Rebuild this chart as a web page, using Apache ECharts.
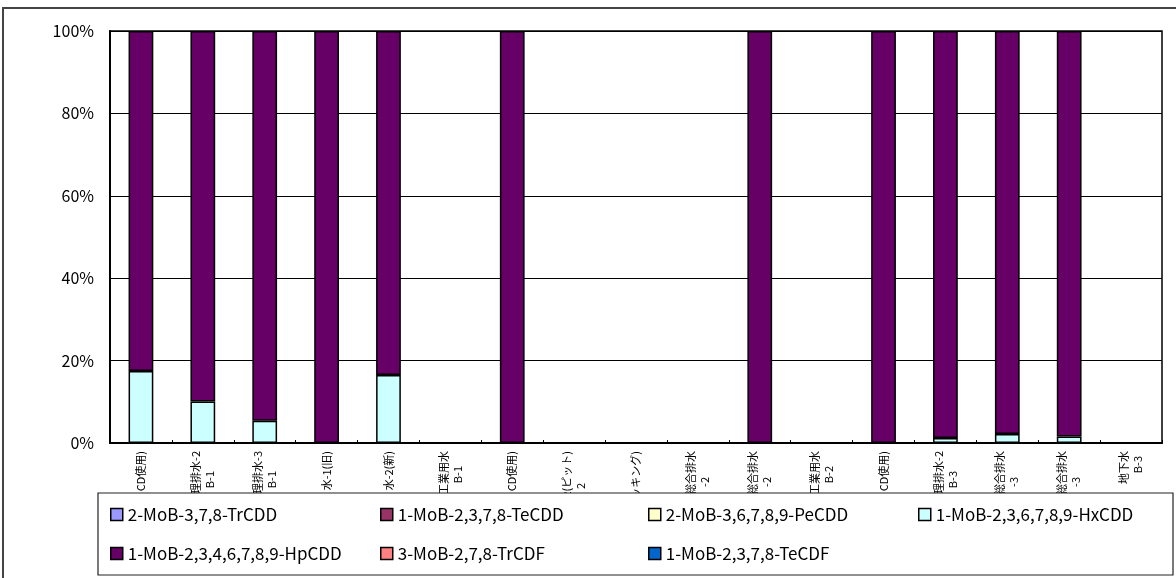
<!DOCTYPE html>
<html>
<head>
<meta charset="utf-8">
<script src="https://cdn.jsdelivr.net/npm/echarts@6/dist/echarts.min.js"></script>
<style>
html,body{margin:0;padding:0;background:#fff;}
#c{width:1176px;height:578px;}
</style>
</head>
<body>
<div id="c"></div>
<script>
// ---- data ----
const categories = [
  'CD使用)', '理排水-2\nB-1', '理排水-3\nB-1', '水-1(旧)', '水-2(新)',
  '工業用水\nB-1', 'CD使用)', '-2(ピット)\n2', 'ッキング)', '総合排水\n-2',
  '総合排水\n-2', '工業用水\nB-2', 'CD使用)', '理排水-2\nB-3', '総合排水\n-3',
  '総合排水\n-3', '地下水\nB-3'
];
const seriesNames = [
  '2-MoB-3,7,8-TrCDD', '1-MoB-2,3,7,8-TeCDD', '2-MoB-3,6,7,8,9-PeCDD',
  '1-MoB-2,3,6,7,8,9-HxCDD', '1-MoB-2,3,4,6,7,8,9-HpCDD',
  '3-MoB-2,7,8-TrCDF', '1-MoB-2,3,7,8-TeCDF'
];
// values in percent (null = no data)
const trCDD  = [null,null,null,null,null,null,null,null,null,null,null,null,null,null,null,null,null];
const teCDD  = [null,null,null,null,null,null,null,null,null,null,null,null,null,null,null,null,null];
const peCDD  = [null,null,null,null,null,null,null,null,null,null,null,null,null,null,null,null,null];
const hxCDD  = [17.5,10.1,5.4,null,16.5,null,null,null,null,null,null,null,null,1.2,2.2,1.6,null];
const hpCDD  = [82.5,89.9,94.6,100,83.5,null,100,null,null,null,100,null,100,98.8,97.8,98.4,null];
const trCDF  = [null,null,null,null,null,null,null,null,null,null,null,null,null,null,null,null,null];
const teCDF  = [null,null,null,null,null,null,null,null,null,null,null,null,null,null,null,null,null];
const yTicks = [0, 20, 40, 60, 80, 100];

// ---- style ----
const colors = ['#9999FF', '#993366', '#FFFFCC', '#CCFFFF', '#660066', '#FF8080', '#0066CC'];
const FONT = 'Noto Sans CJK JP';
const LFS = 11;        // x label font size
const BASE_MARGIN = 8; // label distance from the axis line
// second-line shift along the label (px) to mimic centred wrapped labels
const secondShift = [0,20,20,0,0,15,0,32,0,26,26,15,0,20,26,26,5];

const split = categories.map(c => c.split('\n'));
// axis 1: first line (with an empty second-line slot so it sits left of centre)
const firstLines = split.map(p => p.length > 1 ? p[0] + '\n ' : p[0]);

const labelCommon = {
  interval: 0,
  rotate: 90,
  fontFamily: FONT,
  fontSize: LFS,
  lineHeight: 14,
  color: '#000'
};

const xAxes = [{
  type: 'category',
  position: 'bottom',
  data: firstLines,
  axisLine: {lineStyle: {color: '#000', width: 2}},
  axisTick: {show: true, inside: true, length: 3, interval: 0, lineStyle: {color: '#000'}},
  axisLabel: Object.assign({margin: BASE_MARGIN}, labelCommon)
}];
// extra hidden axes: second lines, grouped by how far down they start
const shiftGroups = Array.from(new Set(split.map((p, i) => p.length > 1 ? secondShift[i] : null).filter(v => v !== null)));
shiftGroups.forEach(s => {
  xAxes.push({
    type: 'category',
    position: 'bottom',
    offset: 0,
    data: split.map((p, i) => (p.length > 1 && secondShift[i] === s) ? ' \n' + p[1] : ''),
    axisLine: {show: false},
    axisTick: {show: false},
    splitLine: {show: false},
    axisLabel: Object.assign({margin: BASE_MARGIN + s}, labelCommon)
  });
});

const allData = [trCDD, teCDD, peCDD, hxCDD, hpCDD, trCDF, teCDF];

const chart = echarts.init(document.getElementById('c'), null, {renderer:'canvas'});

const legendCols = [110, 380, 648, 918];
const legendRows = [506, 545];
const legends = seriesNames.map((n, i) => ({
  data: [n],
  left: legendCols[i % 4],
  top: legendRows[Math.floor(i / 4)],
  padding: 0,
  itemWidth: 12,
  itemHeight: 12,
  itemGap: 0,
  icon: 'rect',
  z: 110,
  selectedMode: false,
  itemStyle: {borderColor: '#000', borderWidth: 1.5},
  textStyle: {fontFamily: FONT, fontSize: 17, color: '#000', lineHeight: 17}
}));

const option = {
  animation: false,
  backgroundColor: '#fff',
  color: colors,
  grid: {left: 110, right: 14, top: 31, bottom: 135, show: true, borderColor: '#000', borderWidth: 1.5, backgroundColor: '#fff'},
  legend: legends,
  graphic: [
    {type: 'rect', shape: {x: 3, y: 8, width: 1300, height: 700}, style: {fill: null, stroke: '#444', lineWidth: 2}, silent: true, z: 1},
    {type: 'rect', shape: {x: 98, y: 493, width: 1075, height: 82}, style: {fill: '#fff', stroke: '#222', lineWidth: 1.2}, silent: true, z: 100}
  ],
  xAxis: xAxes,
  yAxis: {
    type: 'value',
    min: yTicks[0],
    max: yTicks[yTicks.length - 1],
    interval: 20,
    axisLine: {show: true, lineStyle: {color: '#000', width: 2}},
    axisTick: {show: false},
    splitLine: {show: true, lineStyle: {color: '#000', width: 1}},
    axisLabel: {formatter: '{value}%', fontFamily: FONT, fontSize: 16, color: '#000', margin: 16}
  },
  series: seriesNames.map((n, i) => ({
    name: n,
    type: 'bar',
    stack: 'total',
    barWidth: '40%',
    xAxisIndex: 0,
    data: allData[i],
    itemStyle: {color: colors[i], borderColor: '#000', borderWidth: 1.5}
  }))
};
chart.setOption(option);
</script>
</body>
</html>
